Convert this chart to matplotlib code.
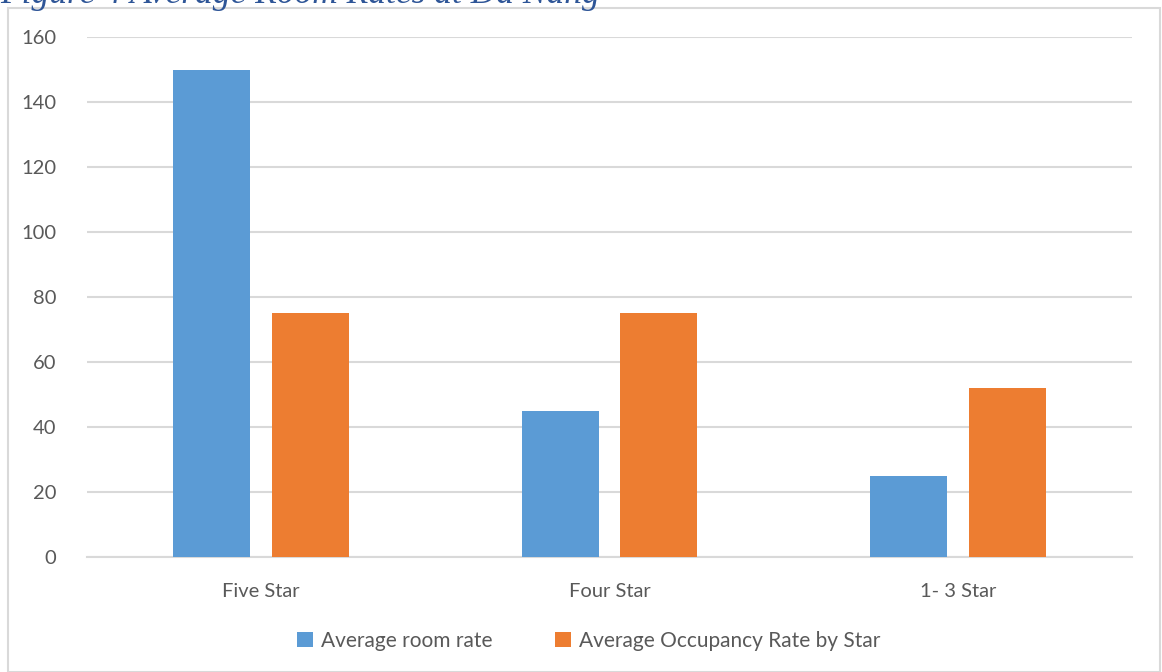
import matplotlib

matplotlib.use("Agg")
import matplotlib.pyplot as plt
import numpy as np
from matplotlib.patches import Rectangle

categories = ["Five Star", "Four Star", "1- 3 Star"]
room_rate = [150, 45, 25]
occupancy = [75, 75, 52]
series_names = ["Average room rate", "Average Occupancy Rate by Star"]
y_ticks = [0, 20, 40, 60, 80, 100, 120, 140, 160]

BLUE = "#5B9BD5"
ORANGE = "#ED7D31"
TEXT = "#595959"
GRID = "#D9D9D9"

plt.rcParams["font.family"] = ["Lato", "DejaVu Sans"]

W, H = 1162, 672
fig = plt.figure(figsize=(W / 100, H / 100), dpi=100)

# chart frame
fig.patches.append(Rectangle((8 / W, 0), (1160 - 8) / W, (H - 8) / H, transform=fig.transFigure,
                             fill=False, edgecolor=GRID, linewidth=1.5))

# partly clipped caption at top
fig.text(0, 1 - 3 / H, "Figure 4 Average Room Rates at Da Nang", family="Liberation Serif",
         style="italic", fontsize=25.5, color="#2E5597", va="baseline", ha="left")

ax = fig.add_axes([87 / W, (H - 557) / H, (1132 - 87) / W, (557 - 37) / H])
x = np.arange(len(categories))
bw = 0.221
off = 0.142
ax.bar(x - off, room_rate, bw, color=BLUE, label=series_names[0], zorder=3)
ax.bar(x + off, occupancy, bw, color=ORANGE, label=series_names[1], zorder=3)

ax.set_xlim(-0.5, len(categories) - 0.5)
ax.set_ylim(0, 160)
ax.set_yticks(y_ticks)
ax.set_xticks(x)
ax.set_xticklabels(categories)
ax.yaxis.grid(True, color=GRID, linewidth=1.5, zorder=0)
ax.set_axisbelow(True)
for s in ["top", "right", "left"]:
    ax.spines[s].set_visible(False)
ax.spines["bottom"].set_color(GRID)
ax.spines["bottom"].set_linewidth(1.5)
ax.tick_params(axis="both", length=0, labelsize=14.5, labelcolor=TEXT)
ax.tick_params(axis="y", pad=22)
ax.tick_params(axis="x", pad=19)

fig.legend(loc="center", bbox_to_anchor=(0.5 + 8 / W, 1 - 641 / H), ncol=2, frameon=False,
           fontsize=15, labelcolor=TEXT, handlelength=0.75, handleheight=0.75,
           handletextpad=0.4, columnspacing=3.0)

fig.savefig("out.png", dpi=100)
